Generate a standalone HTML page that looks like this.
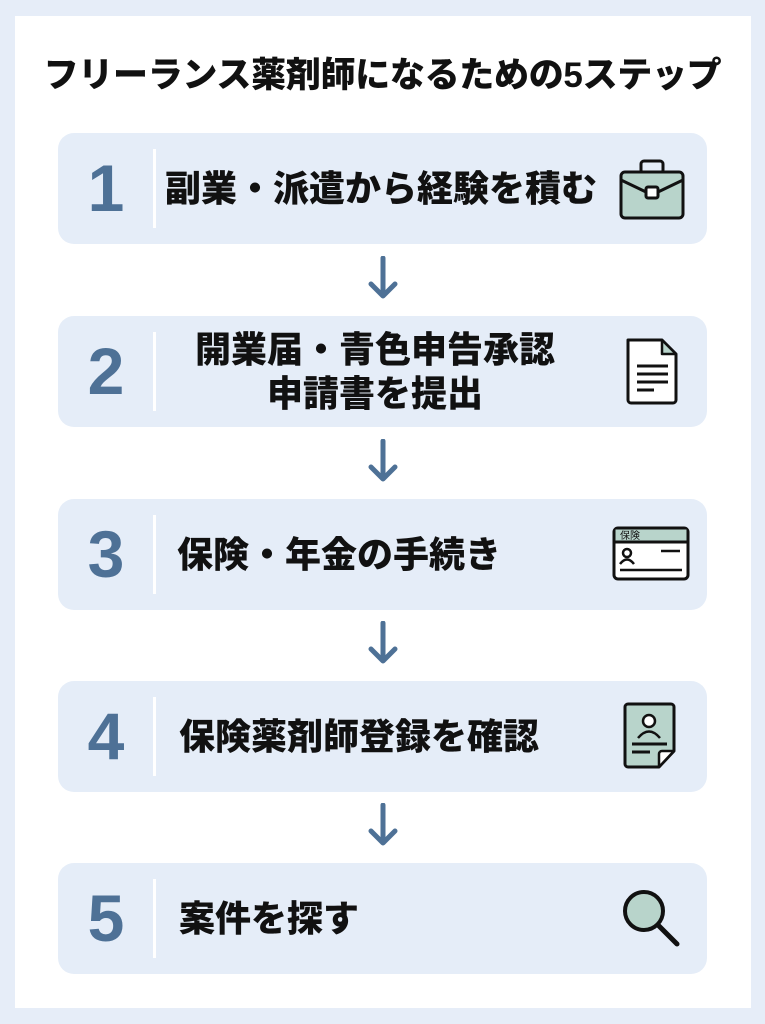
<!DOCTYPE html>
<html><head><meta charset="utf-8"><style>
*{margin:0;padding:0;box-sizing:border-box}
body{width:765px;height:1024px;background:#e6edf8;position:relative;overflow:hidden;font-family:"Liberation Sans","Noto Sans CJK JP",sans-serif}
.card{position:absolute;left:15px;top:16px;width:736px;height:992px;background:#fff}
.title{position:absolute;left:0;width:765px;top:55px;text-align:center;font-size:35px;font-weight:900;color:#111;letter-spacing:-0.3px;line-height:42px}
.box{position:absolute;left:58px;width:649px;height:111px;background:#e5edf8;border-radius:16px}
.num{position:absolute;left:26px;width:44px;top:0;height:111px;line-height:111px;text-align:center;font-size:66px;font-weight:700;color:#4e7196;font-family:"Liberation Sans",sans-serif}
.div{position:absolute;left:95px;top:16px;width:3px;height:79px;background:#fff}
.txt{position:absolute;top:0;height:111px;display:flex;align-items:center;font-size:36px;font-weight:900;color:#111;line-height:44px}
.arrow{position:absolute;left:366px;width:34px;height:44px}
svg.icon{position:absolute}
</style></head><body>
<div class="card"></div>
<div class="title">フリーランス薬剤師になるための5ステップ</div>

<div class="box" style="top:133px"><div class="num">1</div><div class="div"></div><div class="txt" style="left:107px">副業・派遣から経験を積む</div>
<svg class="icon" style="left:560px;top:25px" width="70" height="65" viewBox="0 0 70 65"><rect x="23" y="3" width="22" height="12" rx="3" fill="none" stroke="#111" stroke-width="3"/><rect x="3" y="14" width="62" height="46" rx="4" fill="#b8d4cb" stroke="#111" stroke-width="3"/><path d="M3 22 L28 34 M65 22 L40 34" stroke="#111" stroke-width="3" fill="none"/><rect x="28" y="29" width="12" height="11" rx="2" fill="#fff" stroke="#111" stroke-width="3"/></svg></div>

<svg class="arrow" style="top:256px" viewBox="0 0 34 44"><path d="M17 2 V40 M5 28 L17 40 L29 28" stroke="#4e7196" stroke-width="5" fill="none" stroke-linecap="round" stroke-linejoin="round"/></svg>

<div class="box" style="top:316px"><div class="num">2</div><div class="div"></div><div class="txt" style="left:100px;width:434px;justify-content:center;text-align:center">開業届・青色申告承認<br>申請書を提出</div>
<svg class="icon" style="left:566px;top:20px" width="56" height="70" viewBox="0 0 56 70"><path d="M4 4 H38 L52 18 V64 A3 3 0 0 1 49 67 H7 A3 3 0 0 1 4 64 Z" fill="#fff" stroke="#111" stroke-width="3" stroke-linejoin="round"/><path d="M38 4 V18 H52 Z" fill="#b8d4cb" stroke="#111" stroke-width="2.5" stroke-linejoin="round"/><path d="M13 30 H44 M13 38 H44 M13 46 H44 M13 54 H30" stroke="#111" stroke-width="3"/></svg></div>

<svg class="arrow" style="top:439px" viewBox="0 0 34 44"><path d="M17 2 V40 M5 28 L17 40 L29 28" stroke="#4e7196" stroke-width="5" fill="none" stroke-linecap="round" stroke-linejoin="round"/></svg>

<div class="box" style="top:499px"><div class="num">3</div><div class="div"></div><div class="txt" style="left:119px">保険・年金の手続き</div>
<svg class="icon" style="left:554px;top:27px" width="80" height="57" viewBox="0 0 80 57"><rect x="2" y="2" width="74" height="51" rx="4" fill="#fff" stroke="#111" stroke-width="3"/><path d="M3.5 3.5 H74.5 V16 H3.5 Z" fill="#b8d4cb"/><path d="M2 16 H76" stroke="#111" stroke-width="3"/><text x="8" y="13" font-size="10" font-family="Noto Sans CJK JP,sans-serif" fill="#111">保険</text><circle cx="15" cy="27" r="4" fill="none" stroke="#111" stroke-width="2.5"/><path d="M8 38 Q15 29 22 38" fill="none" stroke="#111" stroke-width="2.5"/><path d="M49 25 H68 M8 44 H70" stroke="#111" stroke-width="2.5"/></svg></div>

<svg class="arrow" style="top:621px" viewBox="0 0 34 44"><path d="M17 2 V40 M5 28 L17 40 L29 28" stroke="#4e7196" stroke-width="5" fill="none" stroke-linecap="round" stroke-linejoin="round"/></svg>

<div class="box" style="top:681px"><div class="num">4</div><div class="div"></div><div class="txt" style="left:121px">保険薬剤師登録を確認</div>
<svg class="icon" style="left:564px;top:20px" width="58" height="70" viewBox="0 0 58 70"><path d="M6 3 H49 A3 3 0 0 1 52 6 V50 L37 66 H6 A3 3 0 0 1 3 63 V6 A3 3 0 0 1 6 3 Z" fill="#b8d4cb" stroke="#111" stroke-width="3" stroke-linejoin="round"/><path d="M52 50 H40 A3 3 0 0 0 37 53 V66 Z" fill="#fff" stroke="#111" stroke-width="2.5" stroke-linejoin="round"/><circle cx="27" cy="20" r="6" fill="#fff" stroke="#111" stroke-width="2.5"/><path d="M16 37 Q27 24 38 37" fill="none" stroke="#111" stroke-width="2.5"/><path d="M10 43 H45 M10 51 H28" stroke="#111" stroke-width="3"/></svg></div>

<svg class="arrow" style="top:803px" viewBox="0 0 34 44"><path d="M17 2 V40 M5 28 L17 40 L29 28" stroke="#4e7196" stroke-width="5" fill="none" stroke-linecap="round" stroke-linejoin="round"/></svg>

<div class="box" style="top:863px"><div class="num">5</div><div class="div"></div><div class="txt" style="left:121px">案件を探す</div>
<svg class="icon" style="left:562px;top:24px" width="64" height="64" viewBox="0 0 64 64"><circle cx="24" cy="24" r="19" fill="#b8d4cb" stroke="#111" stroke-width="4"/><path d="M38 38 L57 57" stroke="#111" stroke-width="5" stroke-linecap="round"/></svg></div>
</body></html>
